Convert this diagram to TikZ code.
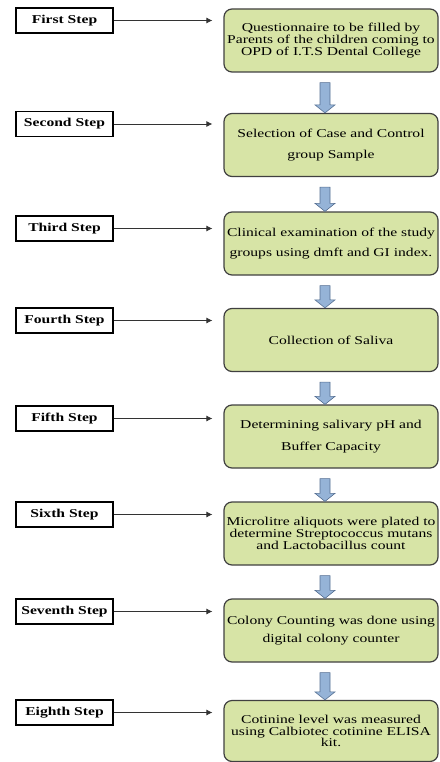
\documentclass[tikz,border=0pt]{standalone}
\usepackage{fontspec}
\setmainfont{Liberation Serif}
\newfontfamily\wideserif[FakeStretch=1.3]{Liberation Serif}
\usepackage{tikz}
\usetikzlibrary{arrows.meta,calc}
\definecolor{boxgreen}{RGB}{215,228,166}
\definecolor{arrowblue}{RGB}{149,179,215}
\definecolor{arrowedge}{RGB}{84,110,145}

% fat down arrow between two stacked boxes
\newcommand{\fatdown}[2]{%
  \draw[fatarrow]
    ($(#1.south)+(-11,10)$) -- ($(#2.north)+(-11,-8)$) -- ($(#2.north)+(-16,-8)$)
    -- ($(#2.north)+(-6,0)$) -- ($(#2.north)+(4,-8)$) -- ($(#2.north)+(-1,-8)$)
    -- ($(#1.south)+(-1,10)$) -- cycle;%
}

\begin{document}
\begin{tikzpicture}[
    x=1pt, y=-1pt,
    font=\wideserif\fontsize{12}{11.7}\selectfont,
    stepbox/.style={
        draw,
        line width=1.2pt,
        fill=white,
        minimum width=97pt,
        minimum height=25pt,
        inner sep=2pt,
        font=\wideserif\bfseries\fontsize{12}{12}\selectfont
    },
    task/.style={
        draw=black!75,
        line width=1.2pt,
        fill=boxgreen,
        rounded corners=8pt,
        align=center,
        minimum width=214pt,
        minimum height=63pt,
        inner sep=2pt
    },
    fatarrow/.style={fill=arrowblue, draw=arrowedge, line width=0.6pt},
    arrow/.style={-{Latex[length=6pt,width=6pt]}, line width=0.8pt, draw=black!80, shorten >=11pt}
]
\useasboundingbox (0,0) rectangle (439,762);

% Steps (left column)
\node[stepbox] (s1) at (64.5,20.5)  {First Step};
\node[stepbox] (s2) at (64.5,124)   {Second Step};
\node[stepbox] (s3) at (64.5,228.5) {Third Step};
\node[stepbox] (s4) at (64.5,320.5) {Fourth Step};
\node[stepbox] (s5) at (64.5,418.5) {Fifth Step};
\node[stepbox] (s6) at (64.5,514.5) {Sixth Step};
\node[stepbox] (s7) at (64.5,611.5) {Seventh Step};
\node[stepbox] (s8) at (64.5,712.5) {Eighth Step};

% Tasks (right column)
\node[task] (g1) at (331,40.5)  {Questionnaire to be filled by\\Parents of the children coming to\\OPD of I.T.S Dental College};
\node[task] (g2) at (331,145)   {Selection of Case and Control\\[9pt]group Sample};
\node[task] (g3) at (331,243.5) {Clinical examination of the study\\[8pt]groups using dmft and GI index.};
\node[task] (g4) at (331,340)   {Collection of Saliva};
\node[task] (g5) at (331,436.5) {Determining salivary pH and\\[10pt]Buffer Capacity};
\node[task] (g6) at (331,533.5) {Microlitre aliquots were plated to\\determine Streptococcus mutans\\and Lactobacillus count};
\node[task] (g7) at (331,630.5) {Colony Counting was done using\\[7pt]digital colony counter};
\node[task, minimum height=61pt] (g8) at (331,731) {Cotinine level was measured\\using Calbiotec cotinine ELISA\\kit.};

% Connections
\draw[arrow] (s1.east) -- (s1.east -| g1.west);
\draw[arrow] (s2.east) -- (s2.east -| g2.west);
\draw[arrow] (s3.east) -- (s3.east -| g3.west);
\draw[arrow] (s4.east) -- (s4.east -| g4.west);
\draw[arrow] (s5.east) -- (s5.east -| g5.west);
\draw[arrow] (s6.east) -- (s6.east -| g6.west);
\draw[arrow] (s7.east) -- (s7.east -| g7.west);
\draw[arrow] (s8.east) -- (s8.east -| g8.west);

\fatdown{g1}{g2}
\fatdown{g2}{g3}
\fatdown{g3}{g4}
\fatdown{g4}{g5}
\fatdown{g5}{g6}
\fatdown{g6}{g7}
\fatdown{g7}{g8}

\end{tikzpicture}
\end{document}
